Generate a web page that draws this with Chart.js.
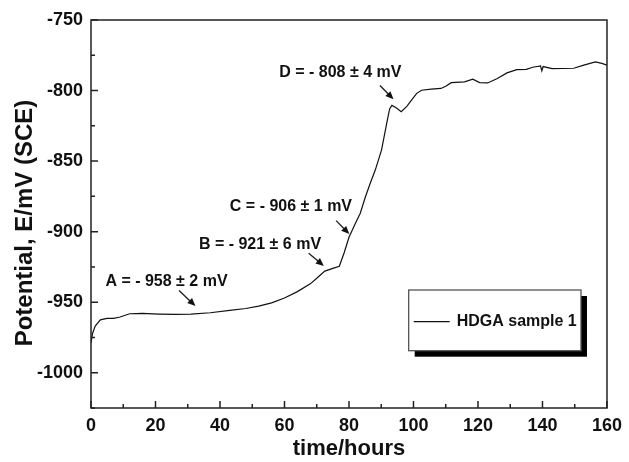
<!DOCTYPE html>
<html>
<head>
<meta charset="utf-8">
<script src="https://cdn.jsdelivr.net/npm/chart.js@4.4.1/dist/chart.umd.min.js"></script>
<style>
body { margin: 0; background: #fff; }
</style>
</head>
<body>
<canvas id="myChart" width="629" height="462"></canvas>
<script>
// curve
var timeHours = [0, 0.5, 1.3, 2.9, 5, 7, 9, 12, 16, 21, 26, 31, 37, 43, 48, 52, 56, 60, 64, 68,
    70, 72.5, 75, 77, 78.5, 80, 82, 83.5, 85, 86.7, 88.2, 90.1, 91.8, 92.6, 93.3, 94.5, 96.2, 98, 99.5, 101,
    102.5, 105.5, 108.5, 110, 111.7, 115.8, 118.4, 120.5, 123, 126, 129, 132, 135, 137, 139.4, 139.8, 140.2, 143, 149.7, 152.8,
    156.4, 158.4, 160];
var potential = [-979, -972, -967, -962.5, -961.5, -961.5, -960.5, -958.2, -958, -958.4, -958.6, -958.4, -957.5, -955.8, -954.5, -952.8, -950.5, -947, -942.5, -937,
    -933, -928, -926, -924.5, -915, -904, -894, -887, -876, -865, -856, -842, -822, -813, -810.5, -812, -815, -811, -806.5, -802,
    -799.8, -799, -798.5, -797, -794.4, -793.8, -792, -794.4, -794.6, -791.5, -787.5, -785.2, -785, -783.5, -782.6, -786, -783, -784.5, -784.2, -782,
    -779.7, -780.7, -782];
var seriesName = "HDGA sample 1";
var noteLabels = ["A = - 958 \u00b1 2 mV", "B = - 921 \u00b1 6 mV", "C = - 906 \u00b1 1 mV", "D = - 808 \u00b1 4 mV"];

// where each note sits, in data units: text x, text y, arrow from x,y, arrow to x,y
var notePlace = [
    [23.4, -935.5, 27.3, -941.8, 32.4, -952.7],
    [52.4, -909.5, 67.5, -915.3, 72.2, -924.3],
    [62.0, -882.3, 76.0, -892.2, 80.1, -901.7],
    [77.3, -787.3, 89.6, -796.4, 93.8, -806.2]
];

var points = [];
for (i = 0; i < timeHours.length; i++) {
    points.push({ x: timeHours[i], y: potential[i] });
}

var fontFam = "'Liberation Sans', Arial, Helvetica, sans-serif";
var ink = '#111';

function arrow(ctx, x1, y1, x2, y2) {
    var ang = Math.atan2(y2 - y1, x2 - x1);
    ctx.beginPath();
    ctx.moveTo(x1, y1);
    ctx.lineTo(x2 - 6 * Math.cos(ang), y2 - 6 * Math.sin(ang));
    ctx.stroke();
    ctx.beginPath();
    ctx.moveTo(x2, y2);
    ctx.lineTo(x2 - 8 * Math.cos(ang) + 3.5 * Math.sin(ang), y2 - 8 * Math.sin(ang) - 3.5 * Math.cos(ang));
    ctx.lineTo(x2 - 8 * Math.cos(ang) - 3.5 * Math.sin(ang), y2 - 8 * Math.sin(ang) + 3.5 * Math.cos(ang));
    ctx.closePath();
    ctx.fill();
}

var extras = {
    id: 'extras',
    afterDraw: function (chart) {
        var ctx = chart.ctx;
        var a = chart.chartArea;
        var xs = chart.scales.x;
        var ys = chart.scales.y;
        ctx.save();
        ctx.strokeStyle = '#222';
        ctx.fillStyle = ink;
        ctx.lineWidth = 1.5;
        ctx.strokeRect(a.left, a.top, a.right - a.left, a.bottom - a.top);

        // inward ticks, bottom and left only
        ctx.beginPath();
        xs.ticks.forEach(function (t) {
            var px = xs.getPixelForValue(t.value);
            var len = t.value % 20 === 0 ? 7 : 4;
            ctx.moveTo(px, a.bottom);
            ctx.lineTo(px, a.bottom - len);
        });
        ys.ticks.forEach(function (t) {
            var py = ys.getPixelForValue(t.value);
            var len = t.value % 50 === 0 ? 7 : 4;
            ctx.moveTo(a.left, py);
            ctx.lineTo(a.left + len, py);
        });
        ctx.stroke();

        // y title
        ctx.save();
        ctx.translate(25, 223);
        ctx.rotate(-Math.PI / 2);
        ctx.font = 'bold 24px ' + fontFam;
        ctx.textAlign = 'center';
        ctx.textBaseline = 'middle';
        ctx.fillText('Potential, E/mV (SCE)', 0, 0);
        ctx.restore();

        // notes with arrows
        ctx.font = 'bold 16px ' + fontFam;
        ctx.textAlign = 'center';
        ctx.textBaseline = 'middle';
        ctx.lineWidth = 1.4;
        for (i = 0; i < noteLabels.length; i++) {
            var p = notePlace[i];
            ctx.fillText(noteLabels[i], xs.getPixelForValue(p[0]), ys.getPixelForValue(p[1]));
            arrow(ctx, xs.getPixelForValue(p[2]), ys.getPixelForValue(p[3]),
                xs.getPixelForValue(p[4]), ys.getPixelForValue(p[5]));
        }

        // legend box with drop shadow
        var bx = a.right - 198.3, by = a.top + 270, bw = 172.3, bh = 60.7;
        ctx.fillStyle = '#000';
        ctx.fillRect(bx + 6, by + 6, bw, bh);
        ctx.fillStyle = '#fff';
        ctx.fillRect(bx, by, bw, bh);
        ctx.strokeStyle = '#555';
        ctx.lineWidth = 1.3;
        ctx.strokeRect(bx, by, bw, bh);
        ctx.strokeStyle = ink;
        ctx.lineWidth = 1.2;
        ctx.beginPath();
        ctx.moveTo(bx + 5, by + 31.7);
        ctx.lineTo(bx + 41, by + 31.7);
        ctx.stroke();
        ctx.fillStyle = ink;
        ctx.font = 'bold 16px ' + fontFam;
        ctx.textAlign = 'left';
        ctx.fillText(chart.data.datasets[0].label, bx + 48, by + 31.7);
        ctx.restore();
    }
};

var ctx = document.getElementById('myChart').getContext('2d');
var chart = new Chart(ctx, {
    type: 'scatter',
    data: {
        datasets: [{
            label: seriesName,
            data: points,
            showLine: true,
            borderColor: ink,
            borderWidth: 1.2,
            pointRadius: 0,
            tension: 0,
            fill: false
        }]
    },
    options: {
        responsive: false,
        animation: false,
        devicePixelRatio: 1,
        layout: { padding: { left: 0, right: 19, top: 20, bottom: 0 } },
        plugins: { legend: { display: false }, tooltip: { enabled: false } },
        scales: {
            x: {
                type: 'linear', min: 0, max: 160,
                grid: { display: false, drawTicks: false },
                border: { display: false },
                ticks: {
                    stepSize: 10, autoSkip: false, maxRotation: 0, padding: 7, color: ink,
                    font: { family: fontFam, size: 18, weight: 'bold' },
                    callback: function (v) { return v % 20 === 0 ? v : ''; }
                },
                title: {
                    display: true, text: 'time/hours', color: ink,
                    font: { family: fontFam, size: 22, weight: 'bold' },
                    padding: { top: 0, bottom: 0 }
                },
                afterFit: function (s) { s.height = 54; }
            },
            y: {
                min: -1025, max: -750,
                grid: { display: false, drawTicks: false },
                border: { display: false },
                ticks: {
                    stepSize: 25, autoSkip: false, padding: 8, color: ink,
                    font: { family: fontFam, size: 18, weight: 'bold' },
                    callback: function (v) { return v % 50 === 0 ? v : ''; }
                },
                afterFit: function (s) { s.width = 91; }
            }
        }
    },
    plugins: [extras]
});
</script>
</body>
</html>
